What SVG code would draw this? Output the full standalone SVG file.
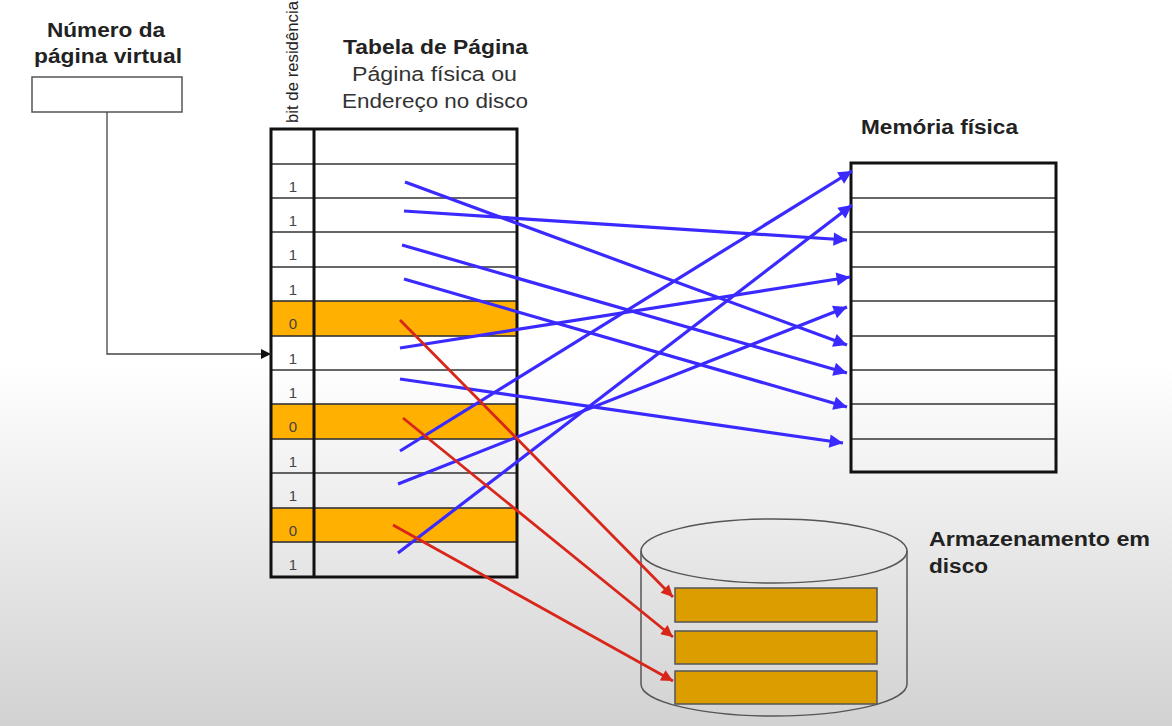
<svg xmlns="http://www.w3.org/2000/svg" width="1172" height="726" viewBox="0 0 1172 726">
<defs>
<linearGradient id="bg" x1="0" y1="0" x2="0" y2="1">
<stop offset="0" stop-color="#ffffff"/>
<stop offset="0.5" stop-color="#ffffff"/>
<stop offset="1" stop-color="#d2d2d2"/>
</linearGradient>
<marker id="ab" viewBox="0 0 10 10" refX="10" refY="5" markerWidth="5.5" markerHeight="4.2" orient="auto" markerUnits="strokeWidth">
<path d="M0,0 L10,5 L0,10 z" fill="#3a2aff"/>
</marker>
<marker id="ar" viewBox="0 0 10 10" refX="10" refY="5" markerWidth="5.5" markerHeight="4.2" orient="auto" markerUnits="strokeWidth">
<path d="M0,0 L10,5 L0,10 z" fill="#d9261a"/>
</marker>
<marker id="ak" viewBox="0 0 10 10" refX="10" refY="5" markerWidth="8" markerHeight="8" orient="auto" markerUnits="strokeWidth">
<path d="M0,0 L10,5 L0,10 z" fill="#111"/>
</marker>
<style>
.t{font-family:"Liberation Sans",Arial,sans-serif;fill:#222}
.b{font-weight:bold;font-size:20px}
.n{font-size:20px;fill:#333}
.bit{font-size:15px;fill:#444;text-anchor:middle}
.row{stroke:#333;stroke-width:1.6}
.out{fill:none;stroke:#111;stroke-width:3}
.org{fill:#ffb000;stroke:#333;stroke-width:1.6}
.blue{stroke:#3a2aff;stroke-width:3.2;fill:none;marker-end:url(#ab)}
.red{stroke:#d9261a;stroke-width:2.8;fill:none;marker-end:url(#ar)}
.blk{fill:#dc9d00;stroke:#555;stroke-width:1.5}
</style>
</defs>
<rect x="0" y="0" width="1172" height="726" fill="url(#bg)"/>

<g id="virtual-page">
<text class="t b" x="47" y="37" textLength="118" lengthAdjust="spacingAndGlyphs">Número da</text>
<text class="t b" x="34" y="63" textLength="148" lengthAdjust="spacingAndGlyphs">página virtual</text>
<rect x="32" y="77" width="150" height="35" fill="#fff" stroke="#555" stroke-width="1.5"/>
</g>

<g id="page-table">
<text class="t" font-size="16.5" fill="#333" transform="translate(298,123) rotate(-90)" textLength="122" lengthAdjust="spacingAndGlyphs">bit de residência</text>
<text class="t b" x="343" y="54" textLength="185" lengthAdjust="spacingAndGlyphs">Tabela de Página</text>
<text class="t n" x="352" y="81" textLength="165" lengthAdjust="spacingAndGlyphs">Página física ou</text>
<text class="t n" x="342" y="108" textLength="186" lengthAdjust="spacingAndGlyphs">Endereço no disco</text>
<rect class="org" x="271" y="301" width="246" height="35"/>
<rect class="org" x="271" y="404" width="246" height="35"/>
<rect class="org" x="271" y="508" width="246" height="34"/>
<g class="row">
<line x1="271" y1="164" x2="517" y2="164"/>
<line x1="271" y1="198" x2="517" y2="198"/>
<line x1="271" y1="232" x2="517" y2="232"/>
<line x1="271" y1="267" x2="517" y2="267"/>
<line x1="271" y1="370" x2="517" y2="370"/>
<line x1="271" y1="473" x2="517" y2="473"/>
</g>
<line x1="314" y1="129" x2="314" y2="577" stroke="#111" stroke-width="3"/>
<rect class="out" x="271" y="129" width="246" height="448"/>
<g class="t bit">
<text x="293" y="192">1</text>
<text x="293" y="226">1</text>
<text x="293" y="260">1</text>
<text x="293" y="295">1</text>
<text x="293" y="329">0</text>
<text x="293" y="364">1</text>
<text x="293" y="398">1</text>
<text x="293" y="432">0</text>
<text x="293" y="467">1</text>
<text x="293" y="501">1</text>
<text x="293" y="536">0</text>
<text x="293" y="570">1</text>
</g>
</g>

<g id="physical-memory">
<text class="t b" x="861" y="134" textLength="157" lengthAdjust="spacingAndGlyphs">Memória física</text>
<g class="row">
<line x1="851" y1="198" x2="1056" y2="198"/>
<line x1="851" y1="232" x2="1056" y2="232"/>
<line x1="851" y1="267" x2="1056" y2="267"/>
<line x1="851" y1="301" x2="1056" y2="301"/>
<line x1="851" y1="336" x2="1056" y2="336"/>
<line x1="851" y1="370" x2="1056" y2="370"/>
<line x1="851" y1="404" x2="1056" y2="404"/>
<line x1="851" y1="439" x2="1056" y2="439"/>
</g>
<rect class="out" x="851" y="163" width="205" height="309"/>
</g>

<g id="disk">
<path d="M641,551 L641,684 A133,32 0 0 0 907,684 L907,551" fill="none" stroke="#555" stroke-width="1.5"/>
<ellipse cx="774" cy="551" rx="133" ry="32" fill="none" stroke="#555" stroke-width="1.5"/>
<rect class="blk" x="675" y="588" width="202" height="34"/>
<rect class="blk" x="675" y="631" width="202" height="33"/>
<rect class="blk" x="675" y="671" width="202" height="33"/>
<text class="t b" x="929" y="546" textLength="221" lengthAdjust="spacingAndGlyphs">Armazenamento em</text>
<text class="t b" x="929" y="573" textLength="59" lengthAdjust="spacingAndGlyphs">disco</text>
</g>

<g id="connectors">
<polyline points="107,112 107,354 271,354" fill="none" stroke="#444" stroke-width="1.3" marker-end="url(#ak)"/>
<line class="blue" x1="405" y1="182" x2="847" y2="345"/>
<line class="blue" x1="404" y1="211" x2="847" y2="240"/>
<line class="blue" x1="402" y1="245" x2="847" y2="373"/>
<line class="blue" x1="404" y1="279" x2="847" y2="407"/>
<line class="blue" x1="400" y1="348" x2="850" y2="277"/>
<line class="blue" x1="400" y1="379" x2="843" y2="443"/>
<line class="blue" x1="400" y1="451" x2="852" y2="171"/>
<line class="blue" x1="398" y1="484" x2="847" y2="307"/>
<line class="blue" x1="398" y1="553" x2="852" y2="205"/>
<line class="red" x1="400" y1="320" x2="673" y2="597"/>
<line class="red" x1="403" y1="418" x2="673" y2="637"/>
<line class="red" x1="393" y1="525" x2="673" y2="681"/>
</g>
</svg>
